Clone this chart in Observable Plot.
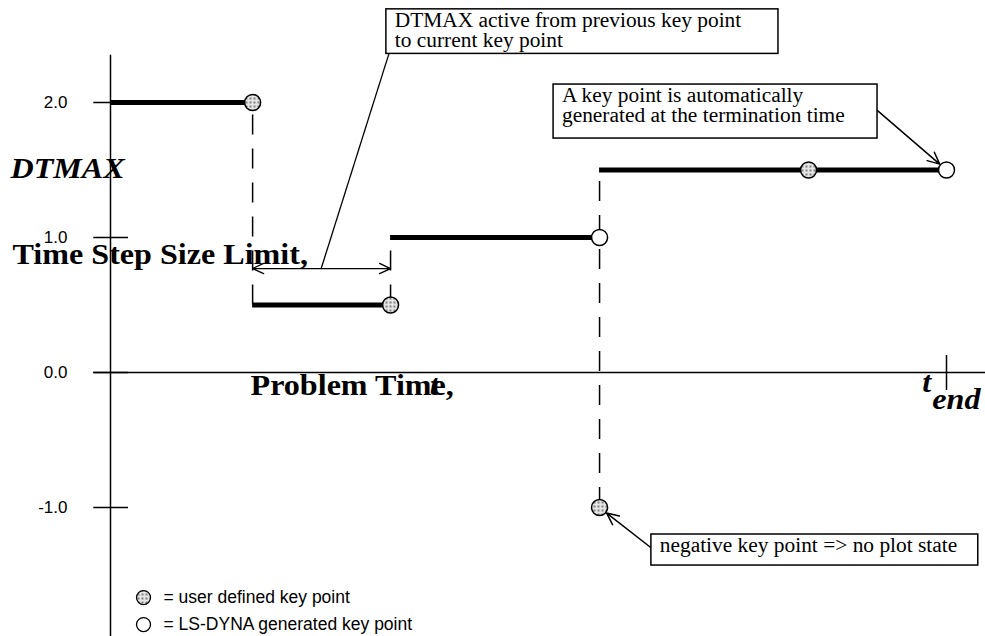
<!DOCTYPE html>
<html>
<head>
<meta charset="utf-8">
<script src="https://cdn.jsdelivr.net/npm/d3@7"></script>
<script src="https://cdn.jsdelivr.net/npm/@observablehq/plot@0.6"></script>
<style>
  html, body { margin: 0; padding: 0; background: #fff; }
  #chart svg { display: block; }
</style>
</head>
<body>
<div id="chart"></div>
<script>
// ---- data (time in arbitrary units, t_end = 10) ----
const segStart = [0, 1.7, 3.35, 5.85];
const segEnd   = [1.7, 3.35, 5.85, 10];
const segValue = [2.0, 0.5, 1.0, 1.5];

const keyTime  = [1.7, 3.35, 5.85, 5.85, 8.35, 10];
const keyValue = [2.0, 0.5, 1.0, -1.0, 1.5, 1.5];
const keyType  = ["user", "user", "generated", "user", "user", "generated"];

const yTickValues = [2.0, 1.0, 0.0, -1.0];
const yTickLabels = ["2.0", "1.0", "0.0", "-1.0"];
const tEnd = 10;

const legendLabels = ["= user defined key point", "= LS-DYNA generated key point"];
const legendTypes = ["user", "generated"];

const boxTexts = [
  "DTMAX active from previous key point\nto current key point",
  "A key point is automatically\ngenerated at the termination time",
  "negative key point => no plot state"
];

// ---- derived tables ----
const segments = segStart.map((s, i) => ({x1: s, x2: segEnd[i], y: segValue[i]}));
const keyPoints = keyTime.map((t, i) => ({t, v: keyValue[i], type: keyType[i]}));
// dashed connectors at each transition, spanning every value seen at that time
const transitions = Array.from(new Set(segEnd.slice(0, -1))).map(t => {
  const vals = [];
  segments.forEach(s => { if (s.x1 === t || s.x2 === t) vals.push(s.y); });
  keyPoints.forEach(k => { if (k.t === t) vals.push(k.v); });
  return {x: t, y1: d3.min(vals), y2: d3.max(vals)};
});
const yTicks = yTickValues.map((v, i) => ({v, label: yTickLabels[i]}));
const legend = legendLabels.map((l, i) => ({label: l, type: legendTypes[i], y: -1.667 - 0.2 * i}));

// annotation placement (data units)
const boxes = [
  {x1: 3.30, x2: 7.99, y1: 2.69, y2: 2.36, text: boxTexts[0]},
  {x1: 5.30, x2: 9.175, y1: 2.133, y2: 1.733, text: boxTexts[1]},
  {x1: 6.47, x2: 10.38, y1: -1.20, y2: -1.43, text: boxTexts[2]}
];
const activeSeg = segments[1];
const arrowY = 0.77;
const arrowMid = 2.52;

const serif = "'Liberation Serif', 'Times New Roman', serif";
const sans = "'Liberation Sans', Arial, Helvetica, sans-serif";
const hatch = "url(#keyhatch)";

const chart = Plot.plot({
  width: 985,
  height: 636,
  marginLeft: 110,
  marginRight: 39,
  marginTop: 102,
  marginBottom: 129,
  x: {domain: [0, tEnd], axis: null},
  y: {domain: [-1, 2], axis: null},
  marks: [
    // axes
    Plot.ruleX([0], {y1: -1.96, y2: 2.35, stroke: "black", strokeWidth: 1.5}),
    Plot.ruleY([0], {x1: -0.2, x2: 10.47, stroke: "black", strokeWidth: 1.5}),
    Plot.ruleY(yTicks, {y: "v", x1: -0.2, x2: 0.215, stroke: "black", strokeWidth: 1.5}),
    Plot.text(yTicks, {x: 0, y: "v", text: "label", dx: -43, textAnchor: "end", fontFamily: sans, fontSize: 17, fill: "black"}),
    Plot.ruleX([tEnd], {y1: -0.133, y2: 0.126, stroke: "black", strokeWidth: 1.5}),
    // dashed connectors
    Plot.ruleX(transitions, {x: "x", y1: "y1", y2: "y2", stroke: "black", strokeWidth: 1.5, strokeDasharray: "20,14"}),
    // step segments
    Plot.ruleY(segments, {y: "y", x1: "x1", x2: "x2", stroke: "black", strokeWidth: 5}),
    // annotation leader for box 1 and double arrow
    Plot.link([0], {x1: boxes[0].x1 + 0.03, y1: boxes[0].y2, x2: arrowMid, y2: arrowY, stroke: "black", strokeWidth: 1.3}),
    Plot.arrow([activeSeg], {x1: arrowMid, y1: arrowY, x2: "x1", y2: arrowY, stroke: "black", strokeWidth: 1.3, headLength: 14, headAngle: 50}),
    Plot.arrow([activeSeg], {x1: arrowMid, y1: arrowY, x2: "x2", y2: arrowY, stroke: "black", strokeWidth: 1.3, headLength: 14, headAngle: 50}),
    // arrows to key points
    Plot.arrow([keyPoints[5]], {x1: boxes[1].x2, y1: 1.94, x2: "t", y2: "v", insetEnd: 9, stroke: "black", strokeWidth: 1.5, headLength: 13, headAngle: 50}),
    Plot.arrow([keyPoints[3]], {x1: boxes[2].x1, y1: -1.30, x2: "t", y2: "v", insetEnd: 9, stroke: "black", strokeWidth: 1.5, headLength: 13, headAngle: 50}),
    // boxes
    Plot.rect(boxes, {x1: "x1", x2: "x2", y1: "y1", y2: "y2", fill: "white", stroke: "black", strokeWidth: 1.5}),
    Plot.text(boxes, {x: d => d.x1 + 0.1, y: "y1", dy: 3, text: "text", textAnchor: "start", lineAnchor: "top", lineHeight: 1.0, fontFamily: serif, fontSize: 20, fill: "black"}),
    // key points
    Plot.dot(keyPoints, {x: "t", y: "v", r: 8, stroke: "black", strokeWidth: 1.5, fill: d => d.type === "user" ? hatch : "white"}),
    // legend
    Plot.dot(legend, {x: 0.395, y: "y", r: 7, stroke: "black", strokeWidth: 1.3, fill: d => d.type === "user" ? hatch : "white"}),
    Plot.text(legend, {x: 0.395, y: "y", dx: 20, text: "label", textAnchor: "start", fontFamily: sans, fontSize: 17.5, fill: "black"}),
    // axis titles
    Plot.text(["DTMAX"], {x: -1.196, y: 1.444, text: d => d, textAnchor: "start", lineAnchor: "bottom", fontFamily: serif, fontWeight: "bold", fontStyle: "italic", fontSize: 30, fill: "black"}),
    Plot.text(["Time Step Size Limit,"], {x: -1.172, y: 0.807, text: d => d, textAnchor: "start", lineAnchor: "bottom", fontFamily: serif, fontWeight: "bold", fontSize: 30, fill: "black"}),
    Plot.text(["Problem Time,"], {x: 1.675, y: -0.17, text: d => d, textAnchor: "start", lineAnchor: "bottom", fontFamily: serif, fontWeight: "bold", fontSize: 30, fill: "black"}),
    Plot.text(["t"], {x: 3.82, y: -0.17, text: d => d, textAnchor: "start", lineAnchor: "bottom", fontFamily: serif, fontWeight: "bold", fontStyle: "italic", fontSize: 30, fill: "black"}),
    Plot.text(["t"], {x: 9.71, y: -0.148, text: d => d, textAnchor: "start", lineAnchor: "bottom", fontFamily: serif, fontWeight: "bold", fontStyle: "italic", fontSize: 30, fill: "black"}),
    Plot.text(["end"], {x: 9.83, y: -0.267, text: d => d, textAnchor: "start", lineAnchor: "bottom", fontFamily: serif, fontWeight: "bold", fontStyle: "italic", fontSize: 30, fill: "black"})
  ]
});

// dotted fill pattern for user-defined key points
const svg = d3.select(chart);
const defs = svg.insert("defs", ":first-child");
const pat = defs.append("pattern").attr("id", "keyhatch").attr("patternUnits", "userSpaceOnUse")
  .attr("width", 4).attr("height", 4);
pat.append("rect").attr("width", 4).attr("height", 4).attr("fill", "#e6e6e6");
pat.append("circle").attr("cx", 2).attr("cy", 2).attr("r", 1.1).attr("fill", "#6a6a6a");

document.getElementById("chart").appendChild(chart);

// the reference serif lettering is slightly wide: stretch glyphs horizontally via textLength
svg.selectAll("g[font-family]").each(function () {
  const fam = this.getAttribute("font-family") || "";
  if (!fam.includes("Serif")) return;
  const s = 1.07;
  d3.select(this).selectAll("text").each(function () {
    const spans = this.querySelectorAll("tspan");
    const targets = spans.length ? Array.from(spans) : [this];
    targets.forEach(el => {
      const len = el.getComputedTextLength();
      if (len > 0) {
        el.setAttribute("textLength", (len * s).toFixed(1));
        el.setAttribute("lengthAdjust", "spacingAndGlyphs");
      }
    });
  });
});
</script>
</body>
</html>
